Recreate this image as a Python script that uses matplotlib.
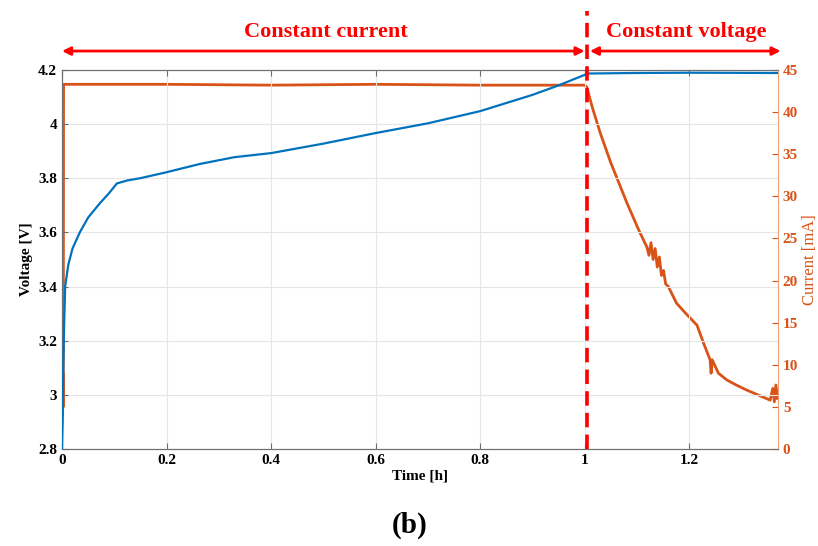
import matplotlib.pyplot as plt
import matplotlib.transforms as mtransforms

# voltage [V] vs time [h]
t_v = [0.0, 0.001, 0.002, 0.004, 0.006, 0.012, 0.02, 0.034, 0.05, 0.073, 0.09, 0.105, 0.125,
       0.149, 0.197, 0.264, 0.33, 0.4, 0.5, 0.6, 0.7, 0.8, 0.9, 0.95, 1.0, 1.005, 1.1, 1.2, 1.37]
volts = [2.80, 2.88, 3.05, 3.25, 3.40, 3.48, 3.54, 3.60, 3.655, 3.709, 3.745, 3.781, 3.792,
         3.80, 3.821, 3.853, 3.878, 3.893, 3.928, 3.967, 4.003, 4.048, 4.108, 4.143, 4.182, 4.187,
         4.189, 4.190, 4.189]

# current [mA] vs time [h]
t_i = [0.0, 0.0008, 0.0012, 0.0018, 0.0024, 0.003, 0.2, 0.4, 0.6, 0.8, 1.0, 1.004, 1.015,
       1.03, 1.05, 1.081, 1.105, 1.119, 1.123, 1.127, 1.131, 1.135, 1.139, 1.143, 1.147, 1.151,
       1.155, 1.16, 1.176, 1.195, 1.215, 1.228, 1.24, 1.242, 1.244, 1.256, 1.272, 1.29, 1.31,
       1.34, 1.355, 1.36, 1.363, 1.366, 1.369]
current = [3.0, 10.0, 4.0, 9.0, 5.0, 43.3, 43.3, 43.2, 43.3, 43.2, 43.2, 43.0, 40.5,
           37.5, 34.0, 29.2, 25.8, 24.0, 23.0, 24.5, 22.5, 23.8, 21.6, 22.8, 20.6, 21.2,
           19.6, 19.3, 17.3, 16.0, 14.7, 12.5, 10.6, 9.0, 10.6, 9.0, 8.2, 7.6, 7.0,
           6.2, 5.8, 7.2, 5.6, 7.6, 6.0]

blue = '#0072BD'
orange = '#D95319'
red = '#FF0000'
edge = '#6e6e6e'
font = 'Liberation Serif'

fig = plt.figure(figsize=(8.18, 5.46), dpi=100)
ax = fig.add_axes([62 / 818, 97 / 546, 716 / 818, 379 / 546])
ax2 = ax.twinx()

ax.plot(t_v, volts, color=blue, lw=1.6, zorder=3)
ax2.plot(t_i, current, color=orange, lw=2.0)
ax.set_zorder(ax2.get_zorder() + 1)
ax.patch.set_visible(False)

ax.set_xlim(0, 1.37)
ax.set_ylim(2.8, 4.2)
ax2.set_ylim(0, 45)
ax.set_xticks([0, 0.2, 0.4, 0.6, 0.8, 1, 1.2])
ax.set_xticklabels(['0', '0.2', '0.4', '0.6', '0.8', '1', '1.2'])
ax.set_yticks([2.8, 3, 3.2, 3.4, 3.6, 3.8, 4, 4.2])
ax.set_yticklabels(['2.8', '3', '3.2', '3.4', '3.6', '3.8', '4', '4.2'])
ax2.set_yticks(range(0, 50, 5))
ax.grid(True, color='#e6e6e6', lw=0.8)

ax.tick_params(direction='in', length=4, color=edge, labelsize=11, top=True)
ax2.tick_params(direction='in', length=4, color=orange, labelcolor=orange, labelsize=11)
for lab in ax.get_xticklabels() + ax.get_yticklabels():
    lab.set_fontfamily(font)
    lab.set_fontweight('bold')
for lab in ax2.get_yticklabels():
    lab.set_fontfamily(font)
    lab.set_fontweight('bold')

for s in ['left', 'top', 'bottom']:
    ax.spines[s].set_color(edge)
    ax2.spines[s].set_color(edge)
ax.spines['right'].set_visible(False)
ax2.spines['right'].set_color('#f0a070')

ax.set_xlabel('Time [h]', fontfamily=font, fontweight='bold', fontsize=11, labelpad=2)
ax.set_ylabel('Voltage [V]', fontfamily=font, fontweight='bold', fontsize=11, labelpad=4)
ax2.set_ylabel('Current [mA]', fontfamily=font, fontsize=12, color=orange, labelpad=3)

# phase annotations
trans = mtransforms.blended_transform_factory(ax.transData, ax.transAxes)
ax.plot([1.005, 1.005], [0, 1.155], transform=trans, color=red, lw=2.6,
        ls=(0, (4, 2)), clip_on=False, zorder=5)
ax.annotate('', xy=(0, 1.05), xytext=(1.0, 1.05), xycoords=trans, textcoords=trans,
            arrowprops=dict(arrowstyle='<|-|>', color=red, lw=2, mutation_scale=12,
                            shrinkA=0, shrinkB=0))
ax.annotate('', xy=(1.01, 1.05), xytext=(1.375, 1.05), xycoords=trans, textcoords=trans,
            arrowprops=dict(arrowstyle='<|-|>', color=red, lw=2, mutation_scale=12,
                            shrinkA=0, shrinkB=0))
ax.text(0.505, 1.1, 'Constant current', transform=trans, color=red, fontfamily=font,
        fontweight='bold', fontsize=16, ha='center', va='center')
ax.text(1.195, 1.1, 'Constant voltage', transform=trans, color=red, fontfamily=font,
        fontweight='bold', fontsize=16, ha='center', va='center')

fig.text(410 / 818, 1 - 525 / 546, '(b)', fontfamily=font, fontweight='bold', fontsize=21,
         ha='center', va='center')

fig.savefig('out.png', dpi=100)
